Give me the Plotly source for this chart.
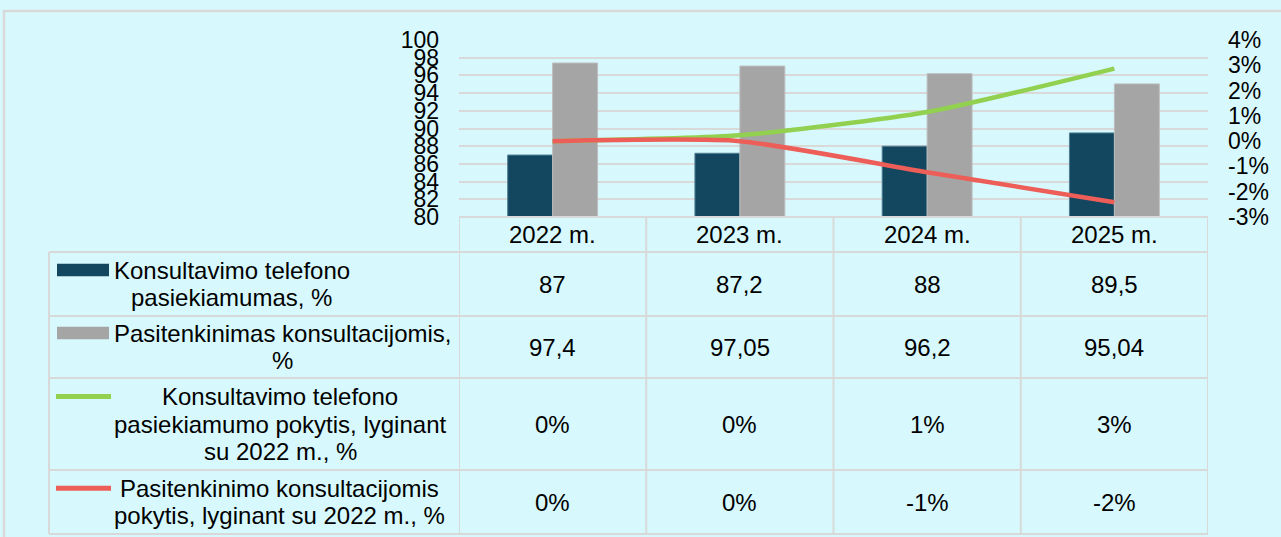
import plotly.graph_objects as go

# data
years = ["2022 m.", "2023 m.", "2024 m.", "2025 m."]
reach = [87, 87.2, 88, 89.5]
satisfaction = [97.4, 97.05, 96.2, 95.04]
reach_change = [0, 0.23, 1.15, 2.87]
satisfaction_change = [0, 0, -1.23, -2.42]

series_names = [
    ["Konsultavimo telefono", "pasiekiamumas, %"],
    ["Pasitenkinimas konsultacijomis,", "%"],
    ["Konsultavimo telefono", "pasiekiamumo pokytis, lyginant", "su 2022 m., %"],
    ["Pasitenkinimo konsultacijomis", "pokytis, lyginant su 2022 m., %"],
]

left_ticks = [80, 82, 84, 86, 88, 90, 92, 94, 96, 98, 100]
right_ticks = [-3, -2, -1, 0, 1, 2, 3, 4]
right_tick_text = ["-3%", "-2%", "-1%", "0%", "1%", "2%", "3%", "4%"]

# styles
W, H = 1281, 537
L, R, T, B = 459, 73, 40, 320
PW = W - L - R
PH = H - T - B
BG = "#D7F9FD"
GRID = "#D9D9D9"
FONT = "Liberation Sans, Arial, sans-serif"
FS = 24
TICK_FS = 23
colors = ["#13475F", "#A5A5A5", "#92D050", "#EC5E57"]


def px(x):
    return (x - L) / PW


def py(y):
    return (H - B - y) / PH


def fmt_num(v):
    return f"{v:g}".replace(".", ",")


def fmt_pct(v):
    r = round(v)
    return f"{r + 0:.0f}%"


fig = go.Figure()
fig.add_trace(go.Bar(
    x=years, y=reach, name=" ".join(series_names[0]),
    marker=dict(color=colors[0], line=dict(color="#4F7F93", width=1)),
))
fig.add_trace(go.Bar(
    x=years, y=satisfaction, name=" ".join(series_names[1]),
    marker=dict(color=colors[1], line=dict(color="#BDBDBD", width=1)),
))
fig.add_trace(go.Scatter(
    x=years, y=reach_change, yaxis="y2", mode="lines",
    line=dict(color=colors[2], width=4.5, shape="spline", smoothing=0.6),
    name=" ".join(series_names[2]),
))
fig.add_trace(go.Scatter(
    x=years, y=satisfaction_change, yaxis="y2", mode="lines",
    line=dict(color=colors[3], width=4.5, shape="spline", smoothing=0.6),
    name=" ".join(series_names[3]),
))

# table geometry (pixels)
row_edges = [217, 252, 316, 378, 470, 534]
table_left = 49
text_centers = [232, 282, 280, 279]
line_h = 27.5

shapes = []
annotations = []
line_style = dict(color=GRID, width=2)

# outer chart frame
shapes.append(dict(type="rect", xref="paper", yref="paper",
                   x0=px(4), x1=px(1300), y0=py(11), y1=py(560),
                   line=dict(color=GRID, width=2.5)))

# horizontal lines of the table
for i, ye in enumerate(row_edges):
    x0 = px(L) if i == 0 else px(table_left)
    shapes.append(dict(type="line", xref="paper", yref="paper",
                       x0=x0, x1=px(W - R), y0=py(ye), y1=py(ye), line=line_style))
# column lines through the category axis
for k in range(len(years) + 1):
    shapes.append(dict(type="line", xref="x", yref="paper",
                       x0=k - 0.5, x1=k - 0.5, y0=py(row_edges[0]), y1=py(row_edges[-1]),
                       line=line_style))
shapes.append(dict(type="line", xref="paper", yref="paper",
                   x0=px(table_left), x1=px(table_left),
                   y0=py(row_edges[1]), y1=py(row_edges[-1]), line=line_style))


def label(x, xref, y, text):
    return dict(x=x, xref=xref, y=y, yref="paper", text=text, showarrow=False,
                xanchor="center", yanchor="middle", font=dict(size=FS))


# header row
for yr in years:
    annotations.append(label(yr, "x", py((row_edges[0] + row_edges[1]) / 2), yr))

# body rows
rows = [
    [fmt_num(v) for v in reach],
    [fmt_num(v) for v in satisfaction],
    [fmt_pct(v) for v in reach_change],
    [fmt_pct(v) for v in satisfaction_change],
]
for r, vals in enumerate(rows):
    top, bot = row_edges[r + 1], row_edges[r + 2]
    mid = (top + bot) / 2
    for yr, txt in zip(years, vals):
        annotations.append(label(yr, "x", py(mid), txt))
    lines = series_names[r]
    first = mid - line_h * (len(lines) - 1) / 2
    for j, ln in enumerate(lines):
        annotations.append(label(px(text_centers[r]), "paper", py(first + j * line_h), ln))
    # legend key
    if r < 2:
        shapes.append(dict(type="rect", xref="paper", yref="paper",
                           x0=px(57), x1=px(109), y0=py(first - 6.5), y1=py(first + 6),
                           fillcolor=colors[r], line=dict(width=0)))
    else:
        shapes.append(dict(type="line", xref="paper", yref="paper",
                           x0=px(56), x1=px(111), y0=py(first), y1=py(first),
                           line=dict(color=colors[r], width=5)))

fig.update_layout(
    width=W, height=H, autosize=False,
    margin=dict(l=L, r=R, t=T, b=B, pad=0),
    paper_bgcolor=BG, plot_bgcolor=BG,
    font=dict(family=FONT, size=FS, color="#000000"),
    showlegend=False,
    barmode="group", bargap=0.52, bargroupgap=0,
    xaxis=dict(type="category", range=[-0.5, 3.5], showticklabels=False,
               showgrid=False, zeroline=False, showline=False, ticks=""),
    yaxis=dict(range=[80, 100], tickvals=left_ticks, showgrid=True, gridcolor=GRID,
               gridwidth=2, zeroline=False, showline=False, ticks="",
               ticklabelstandoff=19, tickfont=dict(size=TICK_FS)),
    yaxis2=dict(range=[-3, 4], overlaying="y", side="right", tickvals=right_ticks,
                ticktext=right_tick_text, showgrid=False, zeroline=False,
                showline=False, ticks="", ticklabelstandoff=19, tickfont=dict(size=TICK_FS)),
    shapes=shapes,
    annotations=annotations,
)

fig.write_html("out.html", config={"displayModeBar": False},
               post_script="document.body.style.margin='0';")
